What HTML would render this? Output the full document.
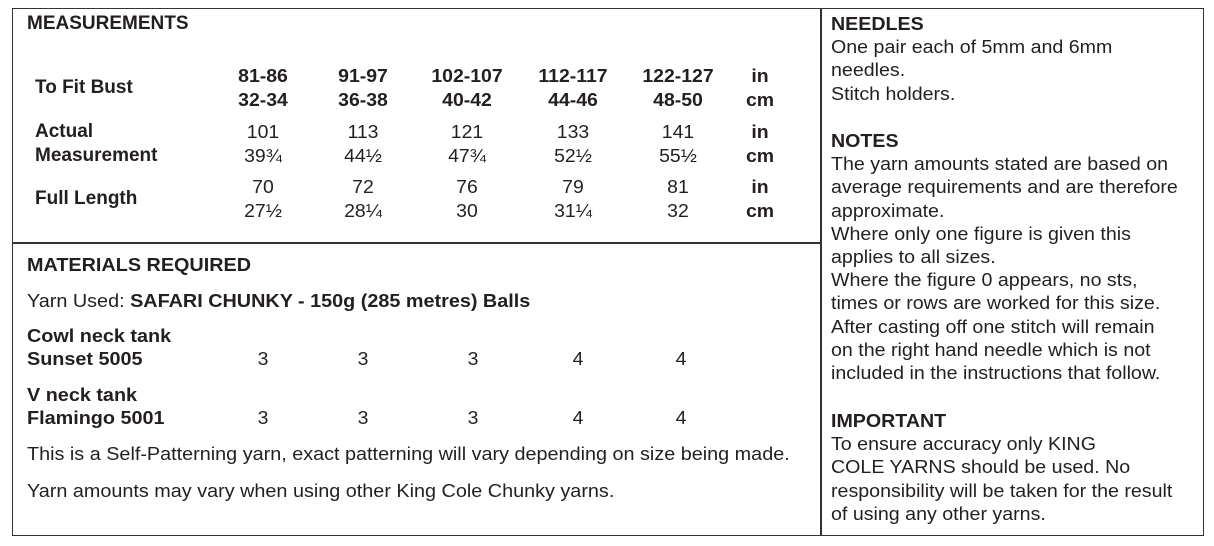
<!DOCTYPE html>
<html><head><style>
body{margin:0;width:1214px;height:546px;background:#fff;font-family:"Liberation Sans",sans-serif;color:#231f20;position:relative;overflow:hidden}
.box{position:absolute;border:1.5px solid #333}
.t{position:absolute;white-space:nowrap;line-height:1}
.n{transform:scaleX(1.0);transform-origin:left center;font-size:19px !important}
.c{transform:translateX(-50%) scaleX(1.08);font-size:18px !important}
.b{font-weight:bold}
.w{transform:scaleX(1.1);transform-origin:left center;font-size:18px !important}
.r{position:absolute;left:831px;font-size:18px;line-height:23.2px;white-space:nowrap;transform:scaleX(1.09);transform-origin:left top}
</style></head><body>
<div class="box" style="left:12px;top:8px;width:1190px;height:526px"></div>
<div style="position:absolute;left:820px;top:8px;width:1.5px;height:528px;background:#333"></div>
<div style="position:absolute;left:12px;top:242px;width:809px;height:1.5px;background:#333"></div>

<div class="t b n" style="left:27px;top:14px;font-size:18px">MEASUREMENTS</div>
<div class="t b n" style="left:35px;top:78px;font-size:18px">To Fit Bust</div>
<div class="t b n" style="left:35px;top:122px;font-size:18px">Actual</div>
<div class="t b n" style="left:35px;top:146px;font-size:18px">Measurement</div>
<div class="t b n" style="left:35px;top:189px;font-size:18px">Full Length</div>

<div class="t b c" style="left:263px;top:67px">81-86</div>
<div class="t b c" style="left:263px;top:91px">32-34</div>
<div class="t b c" style="left:363px;top:67px">91-97</div>
<div class="t b c" style="left:363px;top:91px">36-38</div>
<div class="t b c" style="left:467px;top:67px">102-107</div>
<div class="t b c" style="left:467px;top:91px">40-42</div>
<div class="t b c" style="left:573px;top:67px">112-117</div>
<div class="t b c" style="left:573px;top:91px">44-46</div>
<div class="t b c" style="left:678px;top:67px">122-127</div>
<div class="t b c" style="left:678px;top:91px">48-50</div>
<div class="t b c" style="left:760px;top:67px">in</div>
<div class="t b c" style="left:760px;top:91px">cm</div>

<div class="t c" style="left:263px;top:123px">101</div>
<div class="t c" style="left:263px;top:147px">39¾</div>
<div class="t c" style="left:363px;top:123px">113</div>
<div class="t c" style="left:363px;top:147px">44½</div>
<div class="t c" style="left:467px;top:123px">121</div>
<div class="t c" style="left:467px;top:147px">47¾</div>
<div class="t c" style="left:573px;top:123px">133</div>
<div class="t c" style="left:573px;top:147px">52½</div>
<div class="t c" style="left:678px;top:123px">141</div>
<div class="t c" style="left:678px;top:147px">55½</div>
<div class="t b c" style="left:760px;top:123px">in</div>
<div class="t b c" style="left:760px;top:147px">cm</div>

<div class="t c" style="left:263px;top:178px">70</div>
<div class="t c" style="left:263px;top:202px">27½</div>
<div class="t c" style="left:363px;top:178px">72</div>
<div class="t c" style="left:363px;top:202px">28¼</div>
<div class="t c" style="left:467px;top:178px">76</div>
<div class="t c" style="left:467px;top:202px">30</div>
<div class="t c" style="left:573px;top:178px">79</div>
<div class="t c" style="left:573px;top:202px">31¼</div>
<div class="t c" style="left:678px;top:178px">81</div>
<div class="t c" style="left:678px;top:202px">32</div>
<div class="t b c" style="left:760px;top:178px">in</div>
<div class="t b c" style="left:760px;top:202px">cm</div>

<div class="t b w" style="left:27px;top:256px">MATERIALS REQUIRED</div>
<div class="t w" style="left:27px;top:292px">Yarn Used: <b>SAFARI CHUNKY - 150g (285 metres) Balls</b></div>
<div class="t b w" style="left:27px;top:327px">Cowl neck tank</div>
<div class="t b w" style="left:27px;top:350px">Sunset 5005</div>
<div class="t b w" style="left:27px;top:386px">V neck tank</div>
<div class="t b w" style="left:27px;top:409px">Flamingo 5001</div>
<div class="t c" style="left:263px;top:350px">3</div>
<div class="t c" style="left:363px;top:350px">3</div>
<div class="t c" style="left:473px;top:350px">3</div>
<div class="t c" style="left:578px;top:350px">4</div>
<div class="t c" style="left:681px;top:350px">4</div>
<div class="t c" style="left:263px;top:409px">3</div>
<div class="t c" style="left:363px;top:409px">3</div>
<div class="t c" style="left:473px;top:409px">3</div>
<div class="t c" style="left:578px;top:409px">4</div>
<div class="t c" style="left:681px;top:409px">4</div>
<div class="t w" style="left:27px;top:445px">This is a Self-Patterning yarn, exact patterning will vary depending on size being made.</div>
<div class="t w" style="left:27px;top:482px">Yarn amounts may vary when using other King Cole Chunky yarns.</div>

<div class="r" style="top:13px"><b>NEEDLES</b><br>One pair each of 5mm and 6mm<br>needles.<br>Stitch holders.</div>
<div class="r" style="top:130px"><b>NOTES</b><br>The yarn amounts stated are based on<br>average requirements and are therefore<br>approximate.<br>Where only one figure is given this<br>applies to all sizes.<br>Where the figure 0 appears, no sts,<br>times or rows are worked for this size.<br>After casting off one stitch will remain<br>on the right hand needle which is not<br>included in the instructions that follow.</div>
<div class="r" style="top:410px"><b>IMPORTANT</b><br>To ensure accuracy only KING<br>COLE YARNS should be used. No<br>responsibility will be taken for the result<br>of using any other yarns.</div>
</body></html>
